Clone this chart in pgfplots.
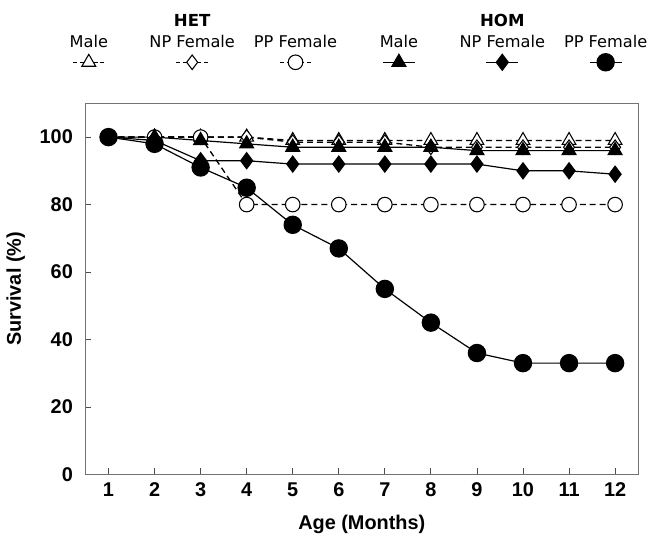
\documentclass[border=0pt]{standalone}
\usepackage{pgfplots}
\pgfplotsset{compat=1.18}
\usepackage{fontspec}
\setmainfont{Liberation Sans}
\newfontfamily\legfont{DejaVu Sans}
\newcommand{\mylegend}[4]{%
  \path[draw=none,fill=none] (-38.5pt,-8pt) rectangle (38.5pt,8pt);
  \draw[#1,mark=none,#4] (-12pt,0pt) -- (12pt,0pt);
  \draw[#1,only marks] plot coordinates {(0pt,0pt)};
  \node[anchor=base,inner sep=0pt,draw=none,fill=none,font=\legfont\fontsize{12.2}{12.2}\selectfont] at (0pt,11.25pt) {#2};
  \node[anchor=base,inner sep=0pt,draw=none,fill=none,font=\legfont\bfseries\fontsize{12.5}{12.5}\selectfont] at (0pt,27pt) {#3};
}
\pgfplotsset{
  legA/.style={legend image code/.code={\mylegend{##1}{Male}{}{dash pattern=on 3pt off 2.2pt}}},
  legB/.style={legend image code/.code={\mylegend{##1}{NP Female}{HET}{dash pattern=on 3pt off 2.2pt}}},
  legC/.style={legend image code/.code={\mylegend{##1}{PP Female}{}{dash pattern=on 3pt off 2.2pt}}},
  legD/.style={legend image code/.code={\mylegend{##1}{Male}{}{}}},
  legE/.style={legend image code/.code={\mylegend{##1}{NP Female}{HOM}{}}},
  legF/.style={legend image code/.code={\mylegend{##1}{PP Female}{}{}}},
  hetline/.style={black, line width=1pt, dash pattern=on 4.5pt off 3pt},
  homline/.style={black, line width=0.9pt},
}
\begin{document}
\begin{tikzpicture}
\begin{axis}[
  width=417pt, height=280pt, scale only axis,
  xmin=0.5, xmax=12.5, ymin=0, ymax=110,
  xtick={1,...,12}, ytick={0,20,...,100},
  tick align=inside, tick pos=left, major tick length=4.5pt,
  axis line style={black!55, line width=0.8pt},
  tick style={black!70, line width=0.6pt},
  /pgf/number format/assume math mode=true,
  tick label style={font=\bfseries\fontsize{15}{15}\selectfont},
  yticklabel style={xshift=-6pt},
  xticklabel style={yshift=-3pt},
  xlabel={Age (Months)}, ylabel={Survival (\%)},
  label style={font=\bfseries\fontsize{15}{15}\selectfont},
  xlabel style={at={(axis description cs:0.5,-0.134)}, anchor=center},
  ylabel style={at={(axis description cs:-0.126,0.5)}, anchor=center},
  clip=false,
  legend columns=6,
  legend style={draw=none, fill=none, inner sep=0pt, outer sep=0pt,
    at={(0.5,1)}, anchor=south, xshift=-10.5pt, yshift=23pt,
    nodes={inner sep=0pt, outer sep=0pt},
    /tikz/every even column/.append style={column sep=0pt},
    /tikz/every odd column/.append style={column sep=0pt}},
]
% HET Male
\addplot[hetline, mark=triangle*, mark size=6pt,
  mark options={solid, fill=white, line width=0.8pt}, legA]
  coordinates {(1,100)(2,100)(3,100)(4,100)(5,99)(6,99)(7,99)(8,99)(9,99)(10,99)(11,99)(12,99)};
\addlegendentry{}
% HET NP Female
\addplot[hetline, mark=diamond*, mark size=5.5pt,
  mark options={solid, fill=white, line width=0.8pt}, legB]
  coordinates {(1,100)(2,100)(3,100)(4,100)(5,98.5)(6,98.5)(7,98.5)(8,97)(9,97)(10,97)(11,97)(12,97)};
\addlegendentry{}
% HET PP Female
\addplot[hetline, mark=*, mark size=5.5pt,
  mark options={solid, fill=white, line width=0.8pt}, legC]
  coordinates {(1,100)(2,100)(3,100)(4,80)(5,80)(6,80)(7,80)(8,80)(9,80)(10,80)(11,80)(12,80)};
\addlegendentry{}
% HOM Male
\addplot[homline, mark=triangle*, mark size=6pt,
  mark options={solid, fill=black}, legD]
  coordinates {(1,100)(2,100)(3,99)(4,98)(5,97)(6,97)(7,97)(8,97)(9,96)(10,96)(11,96)(12,96)};
\addlegendentry{}
% HOM NP Female
\addplot[homline, mark=diamond*, mark size=6pt,
  mark options={solid, fill=black}, legE]
  coordinates {(1,100)(2,99)(3,93)(4,93)(5,92)(6,92)(7,92)(8,92)(9,92)(10,90)(11,90)(12,89)};
\addlegendentry{}
% HOM PP Female
\addplot[homline, mark=*, mark size=6.5pt,
  mark options={solid, fill=black}, legF]
  coordinates {(1,100)(2,98)(3,91)(4,85)(5,74)(6,67)(7,55)(8,45)(9,36)(10,33)(11,33)(12,33)};
\addlegendentry{}
\end{axis}
\path ([shift={(-64.5pt,-54pt)}]current axis.south west) rectangle ([shift={(12pt,78pt)}]current axis.north east);
\end{tikzpicture}
\end{document}
